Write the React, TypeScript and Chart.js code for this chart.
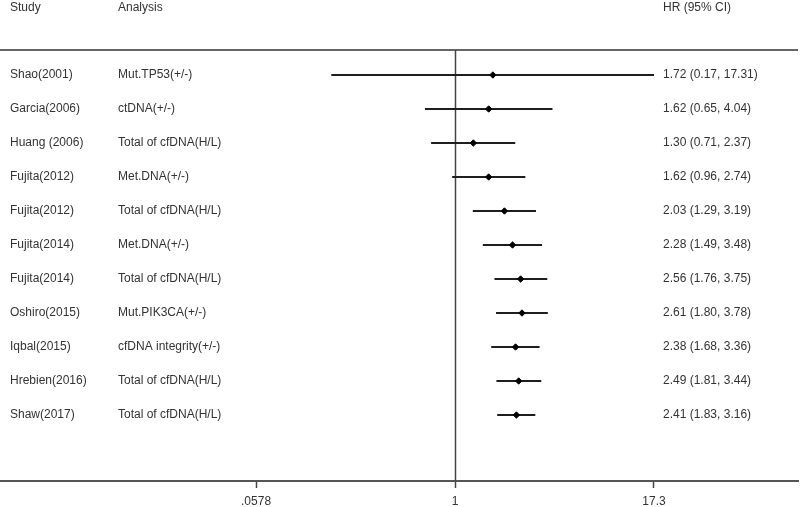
import React, { useEffect, useRef } from "react";
import { Chart, registerables } from "chart.js";

Chart.register(...registerables);

const studies = [
  "Shao(2001)",
  "Garcia(2006)",
  "Huang (2006)",
  "Fujita(2012)",
  "Fujita(2012)",
  "Fujita(2014)",
  "Fujita(2014)",
  "Oshiro(2015)",
  "Iqbal(2015)",
  "Hrebien(2016)",
  "Shaw(2017)",
];
const analyses = [
  "Mut.TP53(+/-)",
  "ctDNA(+/-)",
  "Total of cfDNA(H/L)",
  "Met.DNA(+/-)",
  "Total of cfDNA(H/L)",
  "Met.DNA(+/-)",
  "Total of cfDNA(H/L)",
  "Mut.PIK3CA(+/-)",
  "cfDNA integrity(+/-)",
  "Total of cfDNA(H/L)",
  "Total of cfDNA(H/L)",
];
const hr = [1.72, 1.62, 1.3, 1.62, 2.03, 2.28, 2.56, 2.61, 2.38, 2.49, 2.41];
const lower = [0.17, 0.65, 0.71, 0.96, 1.29, 1.49, 1.76, 1.8, 1.68, 1.81, 1.83];
const upper = [17.31, 4.04, 2.37, 2.74, 3.19, 3.48, 3.75, 3.78, 3.36, 3.44, 3.16];
const tickValues = [0.0578, 1, 17.3];
const tickLabels = [".0578", "1", "17.3"];
const headers = ["Study", "Analysis", "HR (95% CI)"];
const refValue = 1;

const FONT = '"Liberation Sans", Arial, sans-serif';
const TEXT_COLOR = "#333";

export default function App() {
  const ref = useRef<HTMLCanvasElement | null>(null);

  useEffect(() => {
    if (!ref.current) return;

    const ciDatasets = studies.map((_, i) => ({
      type: "line" as const,
      data: [
        { x: lower[i], y: i },
        { x: upper[i], y: i },
      ],
      borderColor: "#1e1e1e",
      borderWidth: 2,
      pointRadius: 0,
      fill: false,
      order: 2,
    }));

    const pointDataset = {
      type: "scatter" as const,
      data: hr.map((v, i) => ({ x: v, y: i })),
      pointStyle: "rectRot",
      pointRadius: 3.2,
      backgroundColor: "#000",
      borderColor: "#000",
      borderWidth: 1,
      order: 1,
    };

    const textPlugin = {
      id: "forestText",
      beforeDatasetsDraw(chart: any) {
        const { ctx, chartArea, scales } = chart;
        const xs = scales.x;
        ctx.save();
        ctx.strokeStyle = "#666";
        ctx.lineWidth = 2;
        ctx.beginPath();
        ctx.moveTo(chartArea.left, chartArea.top);
        ctx.lineTo(chartArea.right, chartArea.top);
        ctx.stroke();
        const px = Math.round(xs.getPixelForValue(refValue)) + 0.5;
        ctx.strokeStyle = "#444";
        ctx.lineWidth = 1.5;
        ctx.beginPath();
        ctx.moveTo(px, chartArea.top);
        ctx.lineTo(px, chartArea.bottom);
        ctx.stroke();
        ctx.restore();
      },
      afterDraw(chart: any) {
        const { ctx, scales } = chart;
        const ys = scales.y;
        ctx.save();
        ctx.font = `12px ${FONT}`;
        ctx.fillStyle = TEXT_COLOR;
        ctx.textBaseline = "middle";
        ctx.textAlign = "left";
        const cols = [10, 118, 663];
        headers.forEach((h, k) => ctx.fillText(h, cols[k], 8));
        studies.forEach((s, i) => {
          const y = ys.getPixelForValue(i);
          ctx.fillText(s, cols[0], y);
          ctx.fillText(analyses[i], cols[1], y);
          ctx.fillText(
            `${hr[i].toFixed(2)} (${lower[i].toFixed(2)}, ${upper[i].toFixed(2)})`,
            cols[2],
            y
          );
        });
        ctx.restore();
      },
    };

    const chart = new Chart(ref.current, {
      type: "scatter",
      data: { datasets: [...ciDatasets, pointDataset] as any },
      options: {
        animation: false,
        responsive: false,
        layout: { autoPadding: false, padding: { top: 50, right: 2, left: 0, bottom: 0 } },
        plugins: { legend: { display: false }, tooltip: { enabled: false } },
        scales: {
          x: {
            type: "logarithmic",
            bounds: "data",
            min: 0.001475,
            max: 136.2,
            afterBuildTicks: (scale: any) => {
              scale.ticks = tickValues.map((v) => ({ value: v }));
            },
            afterFit: (scale: any) => {
              scale.height = 26;
              scale.paddingLeft = 0;
              scale.paddingRight = 0;
            },
            ticks: {
              autoSkip: false,
              maxRotation: 0,
              padding: 6,
              color: TEXT_COLOR,
              font: { family: FONT, size: 12 },
              callback: (_v: any, i: number) => tickLabels[i],
            },
            grid: {
              display: true,
              drawOnChartArea: false,
              drawTicks: true,
              tickLength: 7,
              tickWidth: 1.5,
              tickColor: "#444",
            },
            border: { display: true, color: "#555", width: 2 },
          },
          y: {
            type: "linear",
            display: false,
            reverse: true,
            min: -0.735,
            max: 11.94,
          },
        },
      },
      plugins: [textPlugin],
    } as any);

    return () => chart.destroy();
  }, []);

  return (
    <div style={{ position: "absolute", left: 0, top: 0, width: 800, height: 507, background: "#fff" }}>
      <canvas ref={ref} width={800} height={507} />
    </div>
  );
}
